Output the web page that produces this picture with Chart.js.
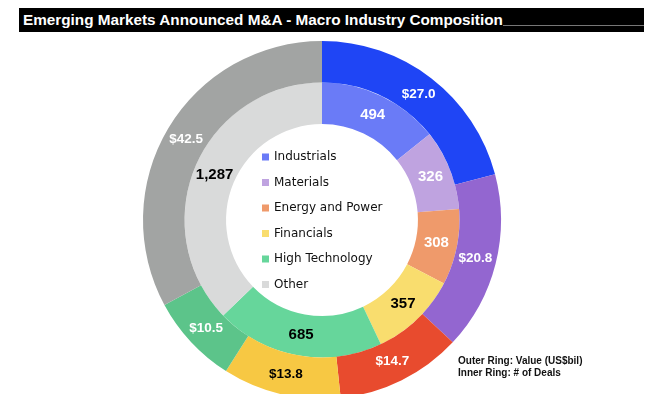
<!DOCTYPE html>
<html>
<head>
<meta charset="utf-8">
<script src="https://cdn.jsdelivr.net/npm/chart.js@4"></script>
<style>
  html, body { margin: 0; padding: 0; background: #fff; overflow: hidden; }
  #wrap { position: relative; width: 665px; height: 394px; }
  #title {
    position: absolute; left: 19px; top: 8px; width: 625px; height: 24px;
    background: #000; color: #fff;
    font: bold 15.3px "Liberation Sans", Arial, sans-serif;
    line-height: 24px; box-sizing: border-box; padding-left: 4px;
    white-space: nowrap; overflow: hidden;
  }
  #title .rule { position: absolute; left: 484px; right: 0; top: 17px; height: 1px; background: #777; }
  #title span { position: relative; }
  #note {
    position: absolute; left: 458px; top: 355px;
    font: bold 10px "Liberation Sans", Arial, sans-serif; line-height: 12px; color: #111;
  }
  canvas { position: absolute; left: 0; top: 0; }
</style>
</head>
<body>
<div id="wrap">
  <canvas id="chart" width="665" height="400"></canvas>
  <div id="title"><div class="rule"></div><span>Emerging Markets Announced M&amp;A - Macro Industry Composition</span></div>
  <div id="note">Outer Ring: Value (US$bil)<br>Inner Ring: # of Deals</div>
</div>
<script>
// categories
const industries = ['Industrials', 'Materials', 'Energy and Power', 'Financials', 'High Technology', 'Other'];
// outer ring: deal value, US$bil
const dealValue = [27.0, 20.8, 14.7, 13.8, 10.5, 42.5];
// inner ring: number of deals
const dealCount = [494, 326, 308, 357, 685, 1287];

const outerColors = ['#1f45f5', '#9366d0', '#e84b2e', '#f7c843', '#5cc48a', '#a2a4a3'];
const innerColors = ['#6a7bf7', '#bfa3e0', '#ef9a6b', '#f9dd6e', '#66d69b', '#d9dada'];
// which labels are drawn white (the rest are black)
const outerWhite = [true, true, true, false, true, true];
const innerWhite = [true, true, true, false, false, false];

// draws the value labels on each arc
const arcLabels = {
  id: 'arcLabels',
  afterDatasetsDraw(chart) {
    const ctx = chart.ctx;
    ctx.save();
    ctx.textAlign = 'center';
    ctx.textBaseline = 'middle';
    chart.data.datasets.forEach((ds, di) => {
      // outer ring labels are a bit smaller than the inner ones
      ctx.font = di === 0 ? 'bold 13.5px "Liberation Sans", Arial, sans-serif'
                          : 'bold 15px "Liberation Sans", Arial, sans-serif';
      chart.getDatasetMeta(di).data.forEach((arc, i) => {
        const p = arc.getCenterPoint();
        const v = ds.data[i];
        const txt = di === 0 ? '$' + v.toFixed(1) : v.toLocaleString('en-US');
        const white = di === 0 ? outerWhite[i] : innerWhite[i];
        ctx.fillStyle = white ? '#ffffff' : '#000000';
        ctx.fillText(txt, p.x, p.y);
      });
    });
    ctx.restore();
  }
};

// legend sits in the hole of the doughnut
const centerLegend = {
  id: 'centerLegend',
  afterDraw(chart) {
    const ctx = chart.ctx;
    ctx.save();
    ctx.font = '12px "DejaVu Sans", Verdana, sans-serif';
    ctx.textBaseline = 'middle';
    ctx.textAlign = 'left';
    industries.forEach((name, i) => {
      const y = 157 + i * 25.5;
      ctx.fillStyle = innerColors[i];
      ctx.fillRect(262, y - 3.5, 7, 7);
      ctx.fillStyle = '#111';
      ctx.fillText(name, 274, y);
    });
    ctx.restore();
  }
};

new Chart(document.getElementById('chart'), {
  type: 'doughnut',
  data: {
    labels: industries,
    datasets: [
      { label: 'Value (US$bil)', data: dealValue, backgroundColor: outerColors, borderWidth: 0 },
      { label: '# of Deals', data: dealCount, backgroundColor: innerColors, borderWidth: 0 }
    ]
  },
  options: {
    responsive: false,
    animation: false,
    cutout: '53.6%',
    layout: { padding: { left: 143, right: 164, top: 41, bottom: 1 } },
    plugins: {
      legend: { display: false },
      tooltip: { enabled: false }
    }
  },
  plugins: [arcLabels, centerLegend]
});
</script>
</body>
</html>
